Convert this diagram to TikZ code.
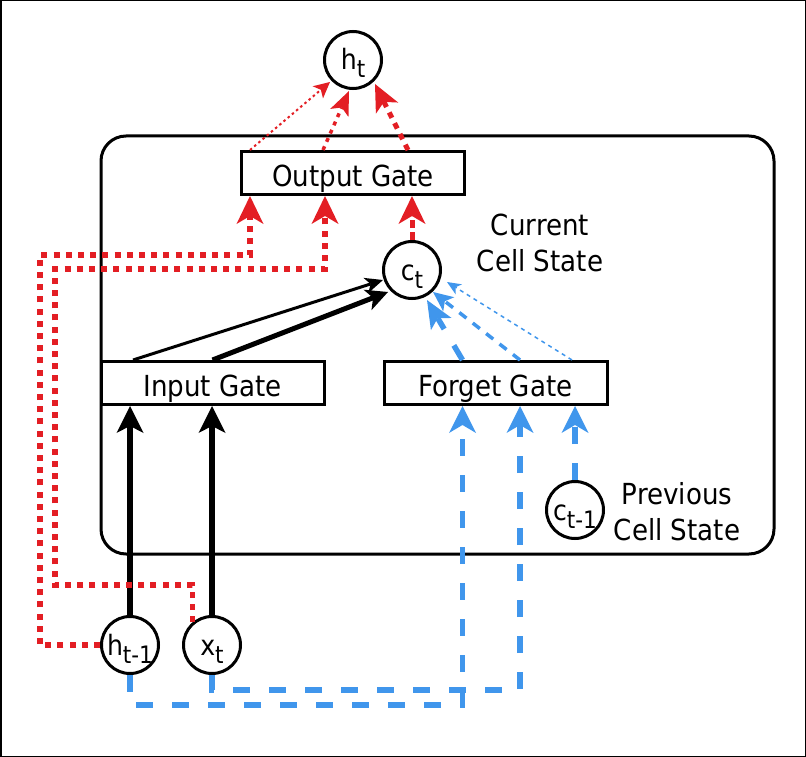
\documentclass[tikz,border=0pt]{standalone}
\usepackage{fontspec}
\setmainfont{DejaVu Sans}[FakeStretch=0.9]
\usetikzlibrary{arrows.meta,calc}
\definecolor{myred}{RGB}{227,30,36}
\definecolor{myblue}{RGB}{64,150,236}
\newcommand{\lbl}[2]{#1\raisebox{-8pt}{\fontsize{24}{24}\selectfont #2}}
\begin{document}
\begin{tikzpicture}[x=1pt,y=-1pt,
  gate/.style={draw, line width=3pt, minimum width=223pt, minimum height=43pt, inner sep=0pt, text height=26pt, text depth=0pt, font=\fontsize{29}{29}\selectfont},
  state/.style={draw, circle, line width=3pt, minimum size=57pt, inner sep=0pt, text height=20pt, text depth=0pt, font=\fontsize{28}{28}\selectfont},
  note/.style={align=center, inner sep=0pt, font=\fontsize{29}{36}\selectfont},
  cellbox/.style={draw, line width=3pt, rounded corners=25pt, minimum width=673pt, minimum height=418pt},
  tipK/.style={-{Stealth[length=27pt,width=27pt,inset=7pt,line width=0pt]}},
  tipKs/.style={-{Stealth[length=18pt,width=16pt,inset=5pt,line width=0pt]}},
  tipKm/.style={-{Stealth[length=22pt,width=22pt,inset=6pt,line width=0pt]}},
  tipR/.style={-{Stealth[length=28pt,width=27pt,inset=8pt,line width=0pt]}},
  tipRs/.style={-{Stealth[length=16pt,width=16pt,inset=4pt,line width=0pt]}},
  tipRm/.style={-{Stealth[length=24pt,width=20pt,inset=6pt,line width=0pt]}},
  tipRl/.style={-{Stealth[length=27pt,width=25pt,inset=7pt,line width=0pt]}},
  tipB/.style={-{Stealth[length=27pt,width=27pt,inset=8pt,line width=0pt]}},
  tipBs/.style={-{Stealth[length=14pt,width=12pt,inset=4pt,line width=0pt]}},
  tipBm/.style={-{Stealth[length=20pt,width=18pt,inset=5pt,line width=0pt]}},
  tipBl/.style={-{Stealth[length=28pt,width=24pt,inset=7pt,line width=0pt]}},
  blkline/.style={draw=black, line width=5.5pt},
  reddot/.style={draw=myred, line width=5.5pt, dash pattern=on 6pt off 6.2pt},
  bluedash/.style={draw=myblue, line width=5.5pt, dash pattern=on 17pt off 19pt},
]
\useasboundingbox (0,0) rectangle (806,757);
\draw[line width=1.5pt] (0.75,0.75) rectangle (805.25,756.25);

\node[cellbox] (cell) at (437.5,345) {};

\node[state] (ht) at (353,60) {\lbl{h}{t}};
\node[gate] (og) at (353,173) {Output Gate};
\node[state] (ct) at (412,270) {\lbl{c}{t}};
\node[gate] (ig) at (212.5,383) {Input Gate};
\node[gate] (fg) at (495.5,383) {Forget Gate};
\node[state] (ctm) at (575,510) {\lbl{c}{t-1}};
\node[state] (htm) at (130,645) {\lbl{h}{t-1}};
\node[state] (xt) at (212,645) {\lbl{x}{t}};
\node[note] (curlbl) at (540,243) {Current\\Cell State};
\node[note] (prevlbl) at (677,512) {Previous\\Cell State};

% black (input gate)
\draw[blkline, tipK] (htm.north) -- (htm.north |- ig.south);
\draw[blkline, tipK] (xt.north) -- (xt.north |- ig.south);
\draw[line width=3pt, tipKs] ($(ig.north)+(-79.5,0)$) -- ($(ct)+(-29,10)$);
\draw[line width=5pt, tipKm] (ig.north) -- ($(ct)+(-24,22)$);

% red (output gate)
\coordinate (ogA) at ($(og.south)+(-103,0)$);
\coordinate (ogB) at ($(og.south)+(-28,0)$);
\draw[reddot, tipR] (htm.west) -| (40,255) -| (ogA);
\draw[reddot, tipR] (xt.131) |- (55,585) |- (325,269) -- (ogB);
\draw[draw=myred, line width=5pt, dash pattern=on 8pt off 4pt, tipR] (ct.north) -- (ct.north |- og.south);
\draw[draw=myred, line width=2pt, dash pattern=on 2.5pt off 3pt, tipRs] ($(og.north)+(-103,0)$) -- ($(ht)+(-23,22)$);
\draw[draw=myred, line width=3.5pt, dash pattern=on 4pt off 5pt, tipRm] ($(og.north)+(-30,0)$) -- ($(ht)+(-4,31)$);
\draw[draw=myred, line width=5pt, dash pattern=on 6pt off 6pt, tipRl] ($(og.north)+(55,0)$) -- ($(ht)+(22,24)$);

% blue (forget gate)
\coordinate (fgA) at ($(fg.south)+(-33,0)$);
\coordinate (fgB) at ($(fg.south)+(24.5,0)$);
\draw[bluedash, tipB] (htm.south) -- ++(0,30) -| (fgA);
\draw[bluedash, tipB] (xt.south) -- ++(0,15) -| (fgB);
\draw[bluedash, tipB] (ctm.north) -- (ctm.north |- fg.south);
\draw[draw=myblue, line width=5.5pt, dash pattern=on 17pt off 19pt, tipBl] ($(fg.north)+(-33,0)$) -- ($(ct)+(15,30)$);
\draw[draw=myblue, line width=3.5pt, dash pattern=on 9pt off 8pt, tipBm] ($(fg.north)+(24.5,0)$) -- ($(ct)+(21,22)$);
\draw[draw=myblue, line width=1.5pt, dash pattern=on 4pt off 4pt, tipBs] ($(fg.north)+(76.5,0)$) -- ($(ct)+(35,12)$);
\end{tikzpicture}
\end{document}
